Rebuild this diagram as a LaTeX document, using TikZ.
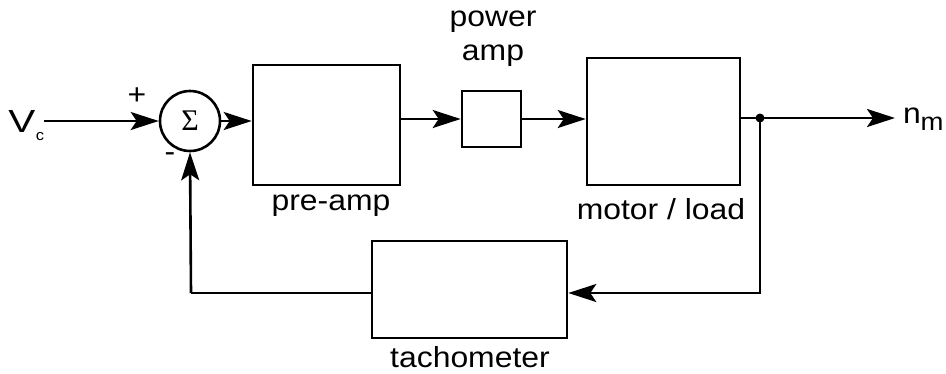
\documentclass[tikz,border=0pt]{standalone}
\usepackage{fontspec}
\setmainfont{Liberation Sans}
\newfontfamily\sigfont{Liberation Serif}
\usetikzlibrary{arrows.meta}
\begin{document}
\begin{tikzpicture}[x=1pt,y=-1pt,
  wire/.style={line width=2.6pt},
  blk/.style={draw,line width=2.6pt,inner sep=0pt},
  arr/.style={wire,-{Stealth[length=28pt,width=18pt,inset=6pt]}},
  lbl/.style={font=\fontsize{29}{31}\selectfont,inner sep=0pt,xscale=1.1}]
\useasboundingbox[fill=white] (0,0) rectangle (946,373);
% blocks
\node[blk,minimum width=147pt,minimum height=120pt] (pre) at (326.5,125) {};
\node[blk,minimum width=59pt,minimum height=56pt] (pa) at (491.5,119) {};
\node[blk,minimum width=153pt,minimum height=127pt] (mot) at (663.5,121.5) {};
\node[blk,minimum width=195pt,minimum height=97pt] (tach) at (469.5,289.5) {};
\node[blk,circle,minimum size=60pt] (sum) at (190,121) {\sigfont\fontsize{30}{32}\selectfont Σ};
% labels
\node[lbl] (lpre) at (331,206) {pre-amp};
\node[lbl] (lpow) at (493,22) {power};
\node[lbl] (lamp) at (493,56) {amp};
\node[lbl] (lmot) at (661,209) {motor / load};
\node[lbl] (ltach) at (470,357) {tachometer};
\node[lbl,font=\fontsize{32}{34}\selectfont,xscale=1.15] (vc) at (22,121) {V};
\node[lbl,font=\fontsize{15}{17}\selectfont,xscale=1.0] (vcs) at (40,137) {c};
\node[lbl,xscale=1.0] (nm) at (912,116) {n};
\node[lbl,font=\fontsize{25}{27}\selectfont,xscale=1.0] (nms) at (932,124) {m};
\node[lbl] (plus) at (137,96) {+};
\node[lbl] (minus) at (170,157) {-};
% connectors
\coordinate (vin) at (44,121);
\draw[arr] (vin) -- (sum.west);
\draw[arr] (sum.east) -- (pre.west |- sum.east);
\draw[arr] (pre.east |- pa.west) -- (pa.west);
\draw[arr] (pa.east) -- (mot.west |- pa.east);
\coordinate (dot) at (760,118);
\coordinate (out) at (895,118);
\coordinate (fbr) at (760,293);
\coordinate (fbl) at (191,293);
\draw[wire] (mot.east |- dot) -- (dot);
\draw[arr] (dot) -- (out);
\fill (dot) circle (4.5pt);
\draw[arr] (dot) -- (fbr) -- (tach.east |- fbr);
\draw[wire] (tach.west |- fbl) -- (fbl);
\draw[arr] (fbl) -- (sum.south);
\end{tikzpicture}
\end{document}
